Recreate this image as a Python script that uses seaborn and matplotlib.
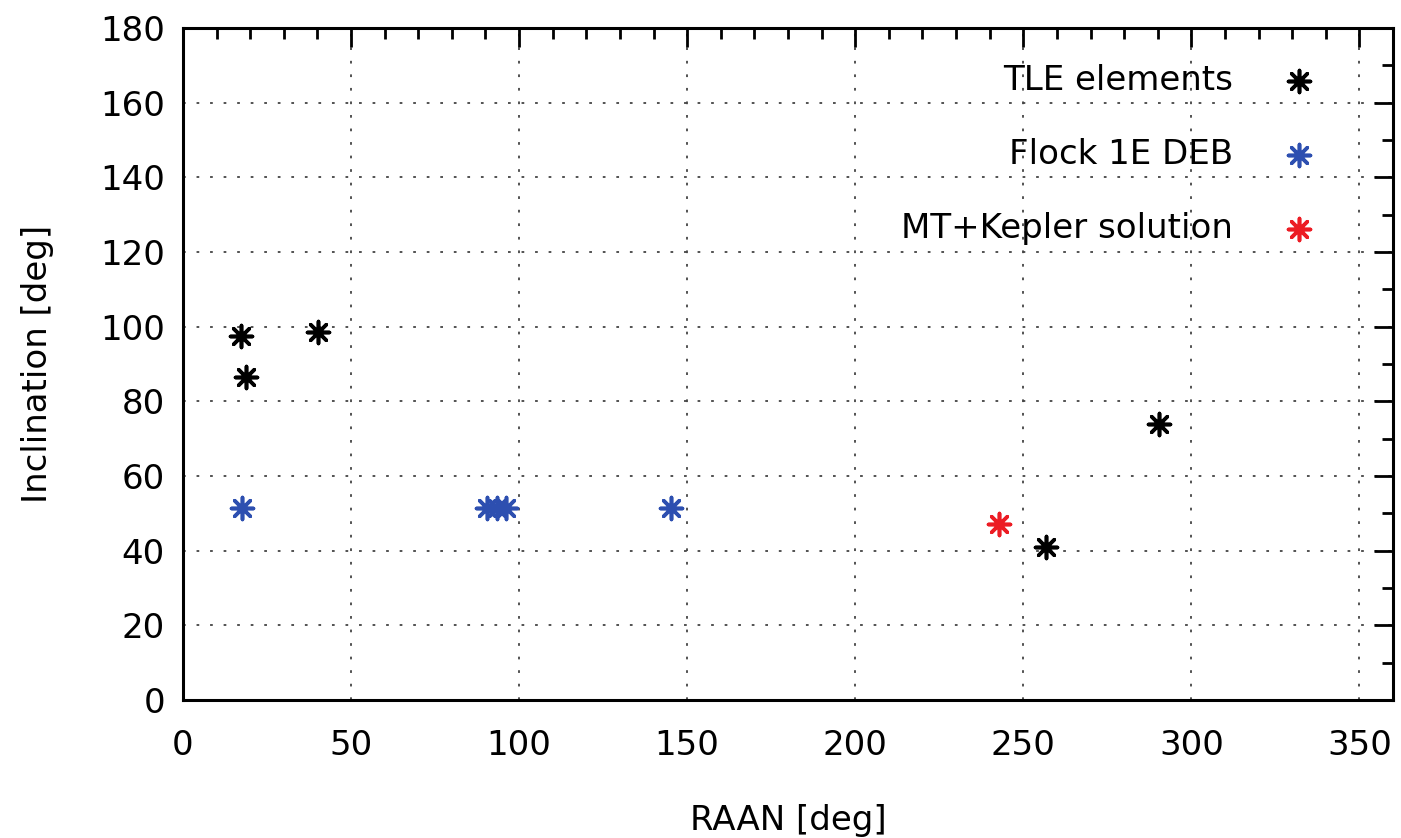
import matplotlib
matplotlib.use("Agg")
import matplotlib.pyplot as plt
import seaborn as sns
import pandas as pd
from matplotlib.ticker import MultipleLocator

# data
tle_raan = [17.2, 18.9, 40.3, 256.7, 290.3]
tle_incl = [97.6, 86.6, 98.7, 40.9, 73.9]
deb_raan = [17.6, 90.5, 93.4, 96.0, 145.3]
deb_incl = [51.3, 51.3, 51.3, 51.3, 51.3]
mt_raan = [242.7]
mt_incl = [47.1]

labels = ["TLE elements", "Flock 1E DEB", "MT+Kepler solution"]
colors = ["#000000", "#2d4fb0", "#ec1c24"]

sns.set_style("white")
plt.rcParams['font.family'] = ['DejaVu Sans']
plt.rcParams['text.color'] = 'black'
plt.rcParams['axes.labelcolor'] = 'black'

fs = 24.5

fig = plt.figure(figsize=(14.01, 8.38), dpi=100)
ax = fig.add_axes([0.1306, 0.1647, 0.9943 - 0.1306, 0.9666 - 0.1647])

star = (8, 2, 0)
for xs, ys, lab, col in zip([tle_raan, deb_raan, mt_raan],
                            [tle_incl, deb_incl, mt_incl], labels, colors):
    df = pd.DataFrame({"raan": xs, "incl": ys})
    sns.scatterplot(data=df, x="raan", y="incl", ax=ax, color=col,
                    marker=star, s=250, linewidth=2.6, label=lab, zorder=3)

ax.set_xlim(0, 360)
ax.set_ylim(0, 180)
ax.xaxis.set_minor_locator(MultipleLocator(10))
ax.yaxis.set_major_locator(MultipleLocator(20))
ax.yaxis.set_minor_locator(MultipleLocator(10))
ax.set_xticks(range(0, 351, 50))

ax.grid(True, which="major", color="#444444", linestyle=(0, (1.5, 6)), linewidth=1.3)

for sp in ax.spines.values():
    sp.set_linewidth(2.2)
    sp.set_color("black")

ax.tick_params(which="both", direction="in", top=True, right=True, width=2.0,
               labelsize=fs, colors="black")
ax.tick_params(which="major", length=14)
ax.tick_params(which="minor", length=8)
ax.tick_params(axis="x", which="major", pad=21)
ax.tick_params(axis="y", which="major", pad=13)

ax.set_xlabel("RAAN [deg]", fontsize=fs, labelpad=30)
ax.set_ylabel("Inclination [deg]", fontsize=fs, labelpad=33)

leg = ax.legend(loc="upper right", bbox_to_anchor=(0.976, 0.992), frameon=False,
                markerfirst=False, fontsize=fs, labelspacing=1.2,
                handletextpad=0.95, scatterpoints=1, handlelength=2.0)

fig.savefig("out.png", dpi=100)
